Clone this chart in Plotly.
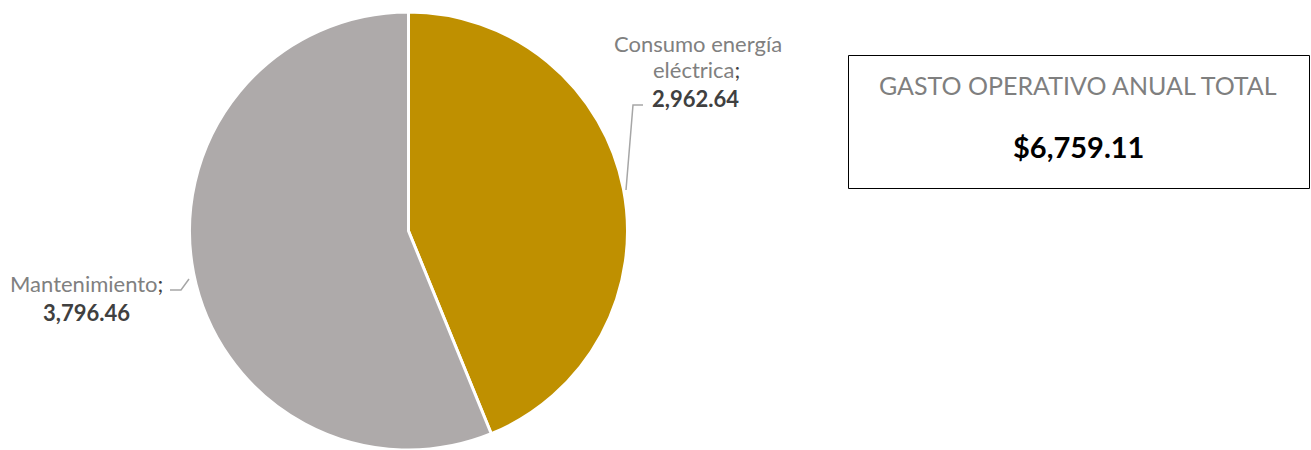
import plotly.graph_objects as go

categories = ["Consumo energía eléctrica", "Mantenimiento"]
label_lines = [["Consumo energía", "eléctrica"], ["Mantenimiento"]]
values = [2962.644, 3796.464]
colors = ["#BF9000", "#AEAAAA"]
box_title = "GASTO OPERATIVO ANUAL TOTAL"

W, H = 1311, 450
total = sum(values)

fig = go.Figure()
fig.add_trace(go.Pie(
    labels=categories, values=values, sort=False, direction="clockwise",
    rotation=0, textinfo="none", hoverinfo="label+value",
    marker=dict(colors=colors, line=dict(color="white", width=3)),
    domain=dict(x=[(408.5 - 219) / W, (408.5 + 219) / W], y=[0, 1 - 12 / H]),
    showlegend=False,
))

FONT = "Lato, Calibri, sans-serif"
GRAY = "#808080"
DARK = "#404040"

def px(x):
    return x / W

def py(y):
    return 1 - y / H

ann = []
# Consumo label
ann.append(dict(x=px(698), y=py(43), text=label_lines[0][0], font=dict(color=GRAY, size=22)))
ann.append(dict(x=px(697), y=py(69),
                text=label_lines[0][1] + f"<span style='color:{DARK}'>;</span>",
                font=dict(color=GRAY, size=22)))
ann.append(dict(x=px(695), y=py(99), text=f"<b>{values[0]:,.2f}</b>", font=dict(color=DARK, size=22)))
# Mantenimiento label
ann.append(dict(x=px(86), y=py(283),
                text=label_lines[1][0] + f"<span style='color:{DARK}'>;</span>",
                font=dict(color=GRAY, size=22)))
ann.append(dict(x=px(86.5), y=py(312), text=f"<b>{values[1]:,.2f}</b>", font=dict(color=DARK, size=22)))
# Box texts
ann.append(dict(x=px(1078), y=py(85), text=box_title, font=dict(color="#7F7F7F", size=25)))
ann.append(dict(x=px(1078), y=py(146), text=f"<b>${total:,.2f}</b>", font=dict(color="#000000", size=29)))

for a in ann:
    a.update(xref="paper", yref="paper", showarrow=False, xanchor="center", yanchor="middle")
    a["font"]["family"] = FONT

shapes = [
    dict(type="rect", xref="paper", yref="paper", x0=px(848.5), x1=px(1309.5), y0=py(55.5), y1=py(188.5),
         line=dict(color="#000000", width=1), fillcolor="rgba(0,0,0,0)"),
    dict(type="path", xref="paper", yref="paper",
         path=f"M {px(626)} {py(190)} L {px(633)} {py(105)} L {px(643)} {py(105)}",
         line=dict(color="#A6A6A6", width=1.5)),
    dict(type="path", xref="paper", yref="paper",
         path=f"M {px(170)} {py(290)} L {px(181)} {py(290)} L {px(189)} {py(279)}",
         line=dict(color="#A6A6A6", width=1.5)),
]

fig.update_layout(
    width=W, height=H, margin=dict(l=0, r=0, t=0, b=0),
    paper_bgcolor="white", plot_bgcolor="white",
    annotations=ann, shapes=shapes,
)
fig.write_html(
    "out.html",
    config={"displayModeBar": False},
    post_script="document.body.style.margin='0';document.body.style.overflow='hidden';",
)
